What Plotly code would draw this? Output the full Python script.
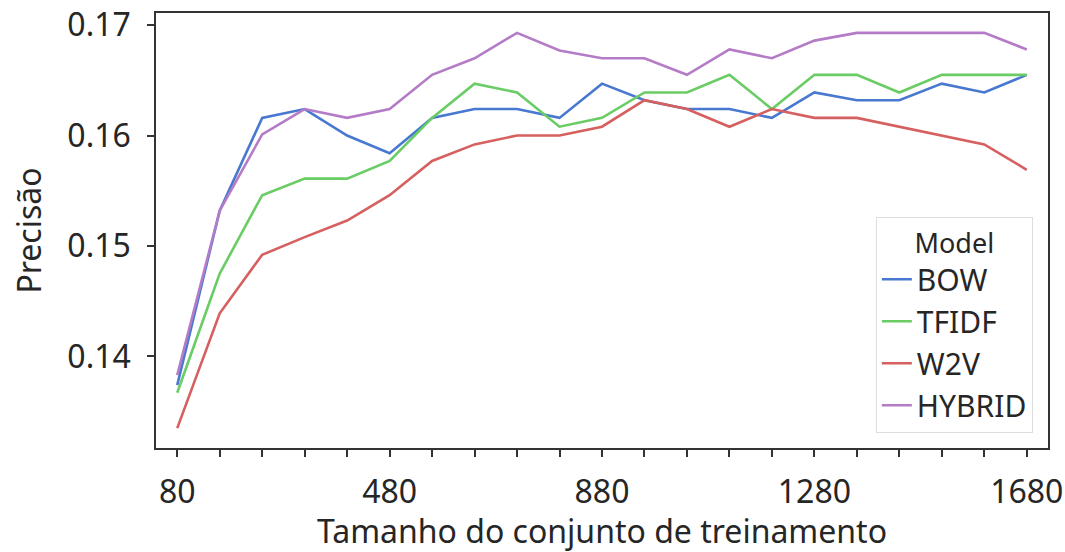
import plotly.graph_objects as go

# Training-set sizes (x) and precision per model
train_sizes = list(range(80, 1681, 80))

bow = [0.1374, 0.1532, 0.1616, 0.1624, 0.1600, 0.1584, 0.1616, 0.1624, 0.1624, 0.1616,
       0.1647, 0.1632, 0.1624, 0.1624, 0.1616, 0.1639, 0.1632, 0.1632, 0.1647, 0.1639, 0.1655]
tfidf = [0.1367, 0.1475, 0.1546, 0.1561, 0.1561, 0.1577, 0.1616, 0.1647, 0.1639, 0.1608,
         0.1616, 0.1639, 0.1639, 0.1655, 0.1624, 0.1655, 0.1655, 0.1639, 0.1655, 0.1655, 0.1655]
w2v = [0.1335, 0.1439, 0.1492, 0.1508, 0.1523, 0.1546, 0.1577, 0.1592, 0.1600, 0.1600,
       0.1608, 0.1632, 0.1624, 0.1608, 0.1624, 0.1616, 0.1616, 0.1608, 0.1600, 0.1592, 0.1569]
hybrid = [0.1383, 0.1532, 0.1601, 0.1624, 0.1616, 0.1624, 0.1655, 0.1670, 0.1693, 0.1677,
          0.1670, 0.1670, 0.1655, 0.1678, 0.1670, 0.1686, 0.1693, 0.1693, 0.1693, 0.1693, 0.1678]

model_names = ["BOW", "TFIDF", "W2V", "HYBRID"]
series = [bow, tfidf, w2v, hybrid]
colors = ["#4878CF", "#6ACC65", "#D65F5F", "#B47CC7"]

# Tick marks at every size, labels every 400
x_tick_labels = [str(v) if (v - 80) % 400 == 0 else "" for v in train_sizes]
y_tick_vals = [0.14, 0.15, 0.16, 0.17]

FONT = "Noto Sans"
TXT = "#262626"

fig = go.Figure()
for name, ys, col in zip(model_names, series, colors):
    fig.add_trace(go.Scatter(
        x=train_sizes, y=ys, mode="lines", name=name,
        line=dict(color=col, width=2.6),
    ))

fig.update_layout(
    width=1065, height=552,
    margin=dict(l=156, r=17, t=13, b=104),
    paper_bgcolor="white", plot_bgcolor="white",
    font=dict(family=FONT, size=32, color=TXT),
    legend=dict(
        title=dict(text="Model", side="top center", font=dict(size=27, color=TXT)),
        font=dict(size=30, color=TXT),
        x=0.983, xanchor="right", y=0.034, yanchor="bottom",
        bgcolor="rgba(255,255,255,0.8)", bordercolor="#dedede", borderwidth=1,
    ),
)

fig.update_xaxes(
    range=[40, 1720], automargin=False,
    tickvals=train_sizes, ticktext=x_tick_labels,
    ticks="outside", ticklen=7, tickwidth=1.5, tickcolor="#333333",
    showline=True, linecolor="#333333", linewidth=1.5, mirror=True,
    showgrid=False, zeroline=False,
    ticklabelstandoff=8,
    title=dict(text="Tamanho do conjunto de treinamento", font=dict(size=32, color=TXT), standoff=14),
)
fig.update_yaxes(
    range=[0.1317, 0.1711], automargin=False,
    tickvals=y_tick_vals, ticktext=[f"{v:.2f}" for v in y_tick_vals],
    ticks="outside", ticklen=7, tickwidth=1.5, tickcolor="#333333",
    showline=True, linecolor="#333333", linewidth=1.5, mirror=True,
    showgrid=False, zeroline=False,
    ticklabelstandoff=10,
    title=dict(text="Precisão", font=dict(size=32, color=TXT), standoff=16),
)

fig.write_html("out.html")
